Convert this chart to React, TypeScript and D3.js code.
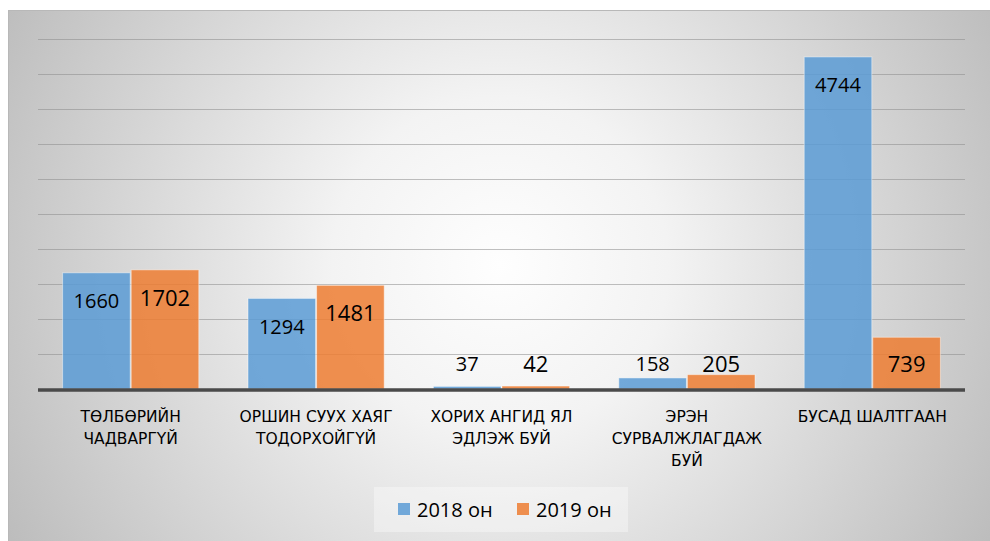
import React, { useRef, useEffect } from 'react';
import * as d3 from 'd3';

const categories = [
  'ТӨЛБӨРИЙН\nЧАДВАРГҮЙ',
  'ОРШИН СУУХ ХАЯГ\nТОДОРХОЙГҮЙ',
  'ХОРИХ АНГИД ЯЛ\nЭДЛЭЖ БУЙ',
  'ЭРЭН\nСУРВАЛЖЛАГДАЖ\nБУЙ',
  'БУСАД ШАЛТГААН',
];
const seriesNames = ['2018 он', '2019 он'];
const values2018 = [1660, 1294, 37, 158, 4744];
const values2019 = [1702, 1481, 42, 205, 739];
const yTicks = [0, 500, 1000, 1500, 2000, 2500, 3000, 3500, 4000, 4500, 5000];

const width = 990;
const height = 541;
const plot = { left: 38, right: 965, top: 39, bottom: 389 };
const colors = ['#5B9BD5', '#ED7D31'];
const labelSizes = [20, 22];
const font = '"Open Sans", "Noto Sans", sans-serif';
const catFont = '"DejaVu Sans", "Open Sans", sans-serif';

const App = () => {
  const svgRef = useRef(null);

  useEffect(() => {
    const svg = d3.select(svgRef.current);
    svg.selectAll('*').remove();

    const defs = svg.append('defs');
    const grad = defs
      .append('radialGradient')
      .attr('id', 'bg-grad')
      .attr('gradientUnits', 'userSpaceOnUse')
      .attr('cx', 500)
      .attr('cy', 265)
      .attr('r', 560);
    grad.append('stop').attr('offset', '0').attr('stop-color', '#fefefe');
    grad.append('stop').attr('offset', '0.3').attr('stop-color', '#f3f3f3');
    grad.append('stop').attr('offset', '1').attr('stop-color', '#bdbdbd');

    // panel
    svg
      .append('rect')
      .attr('x', 8.5)
      .attr('y', 10.5)
      .attr('width', 990)
      .attr('height', 540)
      .attr('fill', 'url(#bg-grad)')
      .attr('stroke', '#b8b8b8')
      .attr('stroke-width', 1);

    const yScale = d3.scaleLinear().domain([0, 5000]).range([plot.bottom, plot.top]);
    const xScale = d3
      .scaleBand()
      .domain(categories)
      .range([plot.left, plot.right])
      .paddingInner(0.26)
      .paddingOuter(0.13);
    const xSub = d3.scaleBand().domain(seriesNames).range([0, xScale.bandwidth()]);

    // gridlines
    svg
      .append('g')
      .selectAll('line')
      .data(yTicks.slice(1))
      .enter()
      .append('line')
      .attr('x1', plot.left)
      .attr('x2', plot.right)
      .attr('y1', (d) => Math.round(yScale(d)) + 0.5)
      .attr('y2', (d) => Math.round(yScale(d)) + 0.5)
      .attr('stroke', '#8c8c8c')
      .attr('stroke-opacity', 0.55)
      .attr('stroke-width', 1.2);

    const rows = categories.map((c, i) => ({ cat: c, vals: [values2018[i], values2019[i]] }));

    // bars
    const groups = svg
      .append('g')
      .selectAll('g')
      .data(rows)
      .enter()
      .append('g')
      .attr('transform', (d) => `translate(${xScale(d.cat)},0)`);

    groups
      .selectAll('rect')
      .data((d) => d.vals.map((v, j) => ({ v, j })))
      .enter()
      .append('rect')
      .attr('x', (d) => xSub(seriesNames[d.j]) + 0.5)
      .attr('width', xSub.bandwidth() - 1)
      .attr('y', (d) => yScale(d.v))
      .attr('height', (d) => plot.bottom - yScale(d.v))
      .attr('fill', (d) => colors[d.j])
      .attr('fill-opacity', 0.85)
      .attr('stroke', '#ffffff')
      .attr('stroke-opacity', 0.45)
      .attr('stroke-width', 1);

    // value labels
    groups
      .selectAll('text')
      .data((d) => d.vals.map((v, j) => ({ v, j })))
      .enter()
      .append('text')
      .attr('x', (d) => xSub(seriesNames[d.j]) + xSub.bandwidth() / 2)
      .attr('y', (d) => {
        const center = Math.min(yScale(d.v) + 28, plot.bottom - 25);
        return center + labelSizes[d.j] * 0.36;
      })
      .attr('text-anchor', 'middle')
      .attr('font-family', font)
      .attr('font-size', (d) => labelSizes[d.j])
      .attr('fill', '#000')
      .text((d) => d.v);

    // baseline
    svg
      .append('line')
      .attr('x1', plot.left)
      .attr('x2', plot.right)
      .attr('y1', plot.bottom + 1)
      .attr('y2', plot.bottom + 1)
      .attr('stroke', '#4a4a4a')
      .attr('stroke-width', 3.5);

    // category labels
    svg
      .append('g')
      .selectAll('text')
      .data(categories)
      .enter()
      .append('text')
      .attr('x', (d) => xScale(d) + xScale.bandwidth() / 2)
      .attr('y', 422)
      .attr('text-anchor', 'middle')
      .attr('font-family', catFont)
      .attr('font-size', 15.5)
      .attr('fill', '#000')
      .each(function (d) {
        const t = d3.select(this);
        d.split('\n').forEach((line, k) => {
          t.append('tspan')
            .attr('x', xScale(d) + xScale.bandwidth() / 2)
            .attr('dy', k === 0 ? 0 : 22)
            .text(line);
        });
      });

    // legend
    const legend = svg.append('g');
    legend
      .append('rect')
      .attr('x', 374)
      .attr('y', 487)
      .attr('width', 254)
      .attr('height', 45)
      .attr('fill', '#ffffff')
      .attr('fill-opacity', 0.35);
    const itemX = [398, 517];
    seriesNames.forEach((name, j) => {
      legend
        .append('rect')
        .attr('x', itemX[j])
        .attr('y', 503)
        .attr('width', 12)
        .attr('height', 12)
        .attr('fill', colors[j])
        .attr('fill-opacity', 0.85);
      legend
        .append('text')
        .attr('x', itemX[j] + 19)
        .attr('y', 517)
        .attr('font-family', font)
        .attr('font-size', 20)
        .attr('fill', '#000')
        .text(name);
    });
  }, []);

  return (
    <div style={{ position: 'absolute', left: 0, top: 0, width, height, overflow: 'hidden', background: '#fff' }}>
      <svg ref={svgRef} width={width} height={height}></svg>
    </div>
  );
};

export default App;
